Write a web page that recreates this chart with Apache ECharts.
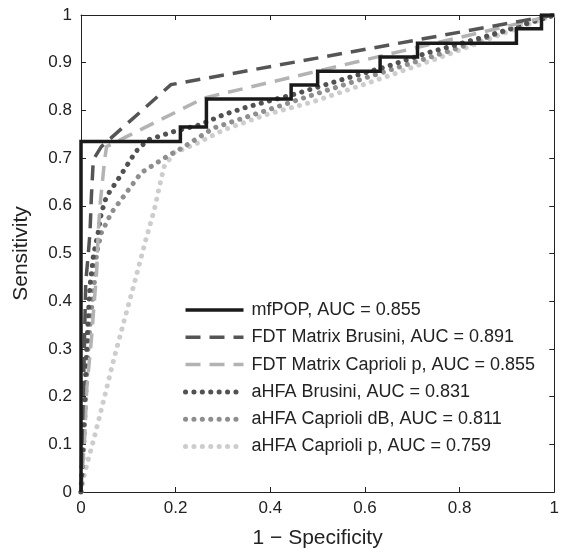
<!DOCTYPE html>
<html>
<head>
<meta charset="utf-8">
<script src="https://cdn.jsdelivr.net/npm/echarts@6/dist/echarts.min.js"></script>
<style>
html,body{margin:0;padding:0;background:#fff;}
#chart{width:562px;height:554px;}
</style>
</head>
<body>
<div id="chart"></div>
<script>
// ---- data (1 - specificity, sensitivity) ----
const seriesNames = [
  'mfPOP, AUC = 0.855',
  'FDT Matrix Brusini, AUC = 0.891',
  'FDT Matrix Caprioli p, AUC = 0.855',
  'aHFA Brusini, AUC = 0.831',
  'aHFA Caprioli dB, AUC = 0.811',
  'aHFA Caprioli p, AUC = 0.759'
];
const mfPOP = [[0,0],[0,0.735],[0.21,0.765],[0.265,0.824],[0.444,0.853],[0.5,0.882],[0.632,0.912],[0.711,0.941],[0.92,0.971],[0.973,1],[1,1]];
const fdtBrusini = [[0,0],[0.002,0.1],[0.005,0.2],[0.008,0.35],[0.01,0.44],[0.015,0.494],[0.019,0.544],[0.022,0.62],[0.026,0.697],[0.043,0.724],[0.19,0.854],[1,1]];
const fdtCaprioliP = [[0,0],[0.008,0.118],[0.012,0.215],[0.022,0.32],[0.029,0.41],[0.033,0.46],[0.036,0.536],[0.04,0.599],[0.05,0.697],[0.054,0.724],[0.26,0.826],[1,1]];
const ahfaBrusini = [[0,0],[0.004,0.1],[0.008,0.2],[0.012,0.3],[0.016,0.38],[0.019,0.432],[0.026,0.494],[0.036,0.543],[0.043,0.585],[0.054,0.62],[0.078,0.655],[0.096,0.683],[0.116,0.714],[0.141,0.738],[0.197,0.756],[0.252,0.77],[0.301,0.791],[0.354,0.808],[0.458,0.836],[0.563,0.868],[0.646,0.892],[0.73,0.92],[0.841,0.951],[0.911,0.972],[0.967,0.99],[1,1]];
const ahfaCaprioliDB = [[0,0],[0.006,0.1],[0.01,0.2],[0.015,0.306],[0.022,0.38],[0.029,0.446],[0.033,0.501],[0.043,0.543],[0.064,0.585],[0.085,0.613],[0.106,0.641],[0.127,0.669],[0.176,0.7],[0.218,0.724],[0.28,0.763],[0.343,0.784],[0.395,0.801],[0.479,0.829],[0.619,0.874],[0.786,0.927],[0.911,0.972],[1,1]];
const ahfaCaprioliP = [[0,0],[0.008,0.041],[0.029,0.118],[0.05,0.201],[0.071,0.285],[0.092,0.362],[0.113,0.439],[0.137,0.529],[0.155,0.592],[0.169,0.655],[0.176,0.683],[0.197,0.711],[0.245,0.731],[0.301,0.759],[0.391,0.791],[0.493,0.819],[0.646,0.871],[0.772,0.916],[0.883,0.958],[1,1]];
const xTicks = [0, 0.2, 0.4, 0.6, 0.8, 1];
const yTicks = [0, 0.1, 0.2, 0.3, 0.4, 0.5, 0.6, 0.7, 0.8, 0.9, 1];

const FONT = '"Liberation Sans", Arial, Helvetica, sans-serif';
const chart = echarts.init(document.getElementById('chart'), null, {renderer: 'canvas'});

function axisCommon(extra) {
  return Object.assign({
    type: 'value', min: 0, max: 1,
    splitLine: {show: false},
    axisLine: {show: true, onZero: false, lineStyle: {color: '#222', width: 1}},
    axisTick: {show: true, inside: true, length: 5, lineStyle: {color: '#222', width: 1}},
  }, extra);
}
const dotted = [0.1, 8.3];
const dashed = [15, 9];
const styles = [
  {color: '#1a1a1a', width: 3.5, type: 'solid', cap: 'butt'},
  {color: '#555555', width: 3.5, type: dashed, cap: 'butt'},
  {color: '#b3b3b3', width: 3.5, type: dashed, cap: 'butt'},
  {color: '#525252', width: 5, type: dotted, cap: 'round'},
  {color: '#8e8e8e', width: 5, type: dotted, cap: 'round'},
  {color: '#cdcdcd', width: 5, type: dotted, cap: 'round'}
];
const datasets = [mfPOP, fdtBrusini, fdtCaprioliP, ahfaBrusini, ahfaCaprioliDB, ahfaCaprioliP];

function lineSeries(i) {
  const s = styles[i];
  return {
    name: seriesNames[i], type: 'line', data: datasets[i], symbol: 'none', showSymbol: false,
    smooth: false, animation: false, step: i === 0 ? 'end' : false,
    lineStyle: {color: s.color, width: s.width, type: s.type, cap: s.cap, join: 'miter'},
    itemStyle: {color: s.color},
    z: i === 0 ? 3 : 2
  };
}

const option = {
  backgroundColor: '#fff',
  animation: false,
  grid: {left: 81, top: 15, right: 3, bottom: 61, containLabel: false},
  xAxis: [
    axisCommon({position: 'bottom', interval: 0.2,
      name: '1 − Specificity', nameLocation: 'middle', nameGap: 36,
      nameTextStyle: {fontFamily: FONT, fontSize: 21, color: '#222'},
      axisLabel: {show: true, margin: 8, fontFamily: FONT, fontSize: 17, color: '#222',
        formatter: v => String(Math.round(v * 10) / 10)}}),
    axisCommon({position: 'top', interval: 0.2, axisLabel: {show: false}})
  ],
  yAxis: [
    axisCommon({position: 'left', interval: 0.1,
      name: 'Sensitivity', nameLocation: 'middle', nameGap: 49,
      nameTextStyle: {fontFamily: FONT, fontSize: 21, color: '#222'},
      axisLabel: {show: true, margin: 9, fontFamily: FONT, fontSize: 17, color: '#222',
        formatter: v => String(Math.round(v * 10) / 10)}}),
    axisCommon({position: 'right', interval: 0.1, axisLabel: {show: false}})
  ],
  legend: {
    orient: 'vertical', left: 183, top: 301, padding: 0,
    itemWidth: 58, itemHeight: 18, itemGap: 9.3,
    itemStyle: {opacity: 0, borderWidth: 0},
    textStyle: {fontFamily: FONT, fontSize: 18, color: '#222', padding: [0,0,0,3]},
    data: seriesNames.map((n, i) => ({name: n, lineStyle: {cap: styles[i].cap, width: styles[i].width, type: styles[i].type}})),
    selectedMode: false
  },
  series: [5, 4, 3, 2, 1, 0].map(lineSeries)
};
chart.setOption(option);
</script>
</body>
</html>
